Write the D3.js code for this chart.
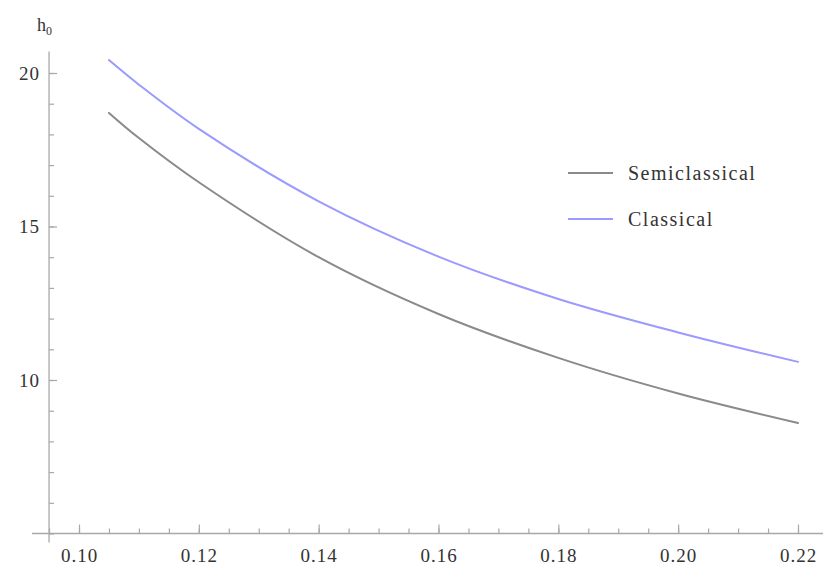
<!DOCTYPE html>
<html>
<head>
<meta charset="utf-8">
<script src="https://cdn.jsdelivr.net/npm/d3@7"></script>
<style>
  body { margin: 0; background: #fff; }
  svg text { font-family: "Liberation Serif", "Times New Roman", "DejaVu Serif", serif; fill: #333; }
</style>
</head>
<body>
<div id="chart"></div>
<script>
// data
const xValues = [0.105, 0.11, 0.12, 0.14, 0.16, 0.18, 0.20, 0.22];
const semiclassical = [18.70, 17.88, 16.44, 14.00, 12.15, 10.72, 9.56, 8.60];
const classical = [20.42, 19.62, 18.18, 15.82, 14.02, 12.64, 11.55, 10.59];
const seriesNames = ["Semiclassical", "Classical"];
const seriesColors = ["#8a8a8a", "#9a9aff"];
const xMajorTicks = [0.10, 0.12, 0.14, 0.16, 0.18, 0.20, 0.22];
const xMinorTicks = d3.range(0, 27).map(i => 0.095 + i * 0.005);
const yMajorTicks = [10, 15, 20];
const yMinorTicks = d3.range(5, 21);

const width = 823, height = 567;

const svg = d3.select("#chart")
    .append("svg")
    .attr("width", width)
    .attr("height", height);

// scales
const x = d3.scaleLinear().domain([0.10, 0.22]).range([79, 798]);
const y = d3.scaleLinear().domain([5, 20]).range([533.5, 73]);

const axisColor = "#a8a8a8";

// axis lines (Mathematica style, they run a bit past the origin)
const xAxisY = y(5);
const yAxisX = x(0.095);
svg.append("line")
    .attr("x1", 32).attr("x2", width)
    .attr("y1", xAxisY).attr("y2", xAxisY)
    .attr("stroke", axisColor).attr("stroke-width", 1.3);
svg.append("line")
    .attr("x1", yAxisX).attr("x2", yAxisX)
    .attr("y1", y(20.7)).attr("y2", xAxisY + 9)
    .attr("stroke", axisColor).attr("stroke-width", 1.3);

// minor ticks
const xMinor = svg.append("g")
    .attr("transform", `translate(0,${xAxisY})`)
    .call(d3.axisBottom(x).tickValues(xMinorTicks).tickSizeInner(-5).tickSizeOuter(0).tickFormat(""));
const yMinor = svg.append("g")
    .attr("transform", `translate(${yAxisX},0)`)
    .call(d3.axisLeft(y).tickValues(yMinorTicks).tickSizeInner(-5).tickSizeOuter(0).tickFormat(""));

// major ticks with labels
const xMajor = svg.append("g")
    .attr("transform", `translate(0,${xAxisY})`)
    .call(d3.axisBottom(x).tickValues(xMajorTicks).tickSizeInner(-9).tickSizeOuter(0)
        .tickPadding(15).tickFormat(d3.format(".2f")));
const yMajor = svg.append("g")
    .attr("transform", `translate(${yAxisX},0)`)
    .call(d3.axisLeft(y).tickValues(yMajorTicks).tickSizeInner(-8).tickSizeOuter(0)
        .tickPadding(9).tickFormat(d3.format("d")));

[xMinor, yMinor, xMajor, yMajor].forEach(g => {
    g.attr("font-family", null).attr("font-size", null);
    g.select(".domain").remove();
    g.selectAll("line").attr("stroke", axisColor).attr("stroke-width", 1.2);
    g.selectAll("text")
        .style("font-size", "19px")
        .style("letter-spacing", "1px")
        .attr("fill", "#333");
});

// y axis label
const yLabel = svg.append("text")
    .attr("x", 37)
    .attr("y", 31)
    .style("font-size", "18px");
yLabel.append("tspan").text("h");
yLabel.append("tspan").attr("dy", 4).style("font-size", "12px").text("0");

// curves
const line = d3.line()
    .x((d, i) => x(xValues[i]))
    .y(d => y(d))
    .curve(d3.curveCatmullRom.alpha(0.5));

[semiclassical, classical].forEach((series, i) => {
    svg.append("path")
        .datum(series)
        .attr("d", line)
        .attr("fill", "none")
        .attr("stroke", seriesColors[i])
        .attr("stroke-width", 2)
        .attr("stroke-linecap", "round");
});

// legend
const legend = svg.append("g").attr("transform", "translate(568,173)");
seriesNames.forEach((name, i) => {
    const row = legend.append("g").attr("transform", `translate(0,${i * 46})`);
    row.append("line")
        .attr("x1", 0).attr("x2", 45)
        .attr("y1", 0).attr("y2", 0)
        .attr("stroke", seriesColors[i])
        .attr("stroke-width", 2);
    row.append("text")
        .attr("x", 60)
        .attr("y", 7)
        .style("font-size", "20px")
        .style("letter-spacing", "1.5px")
        .text(name);
});
</script>
</body>
</html>
